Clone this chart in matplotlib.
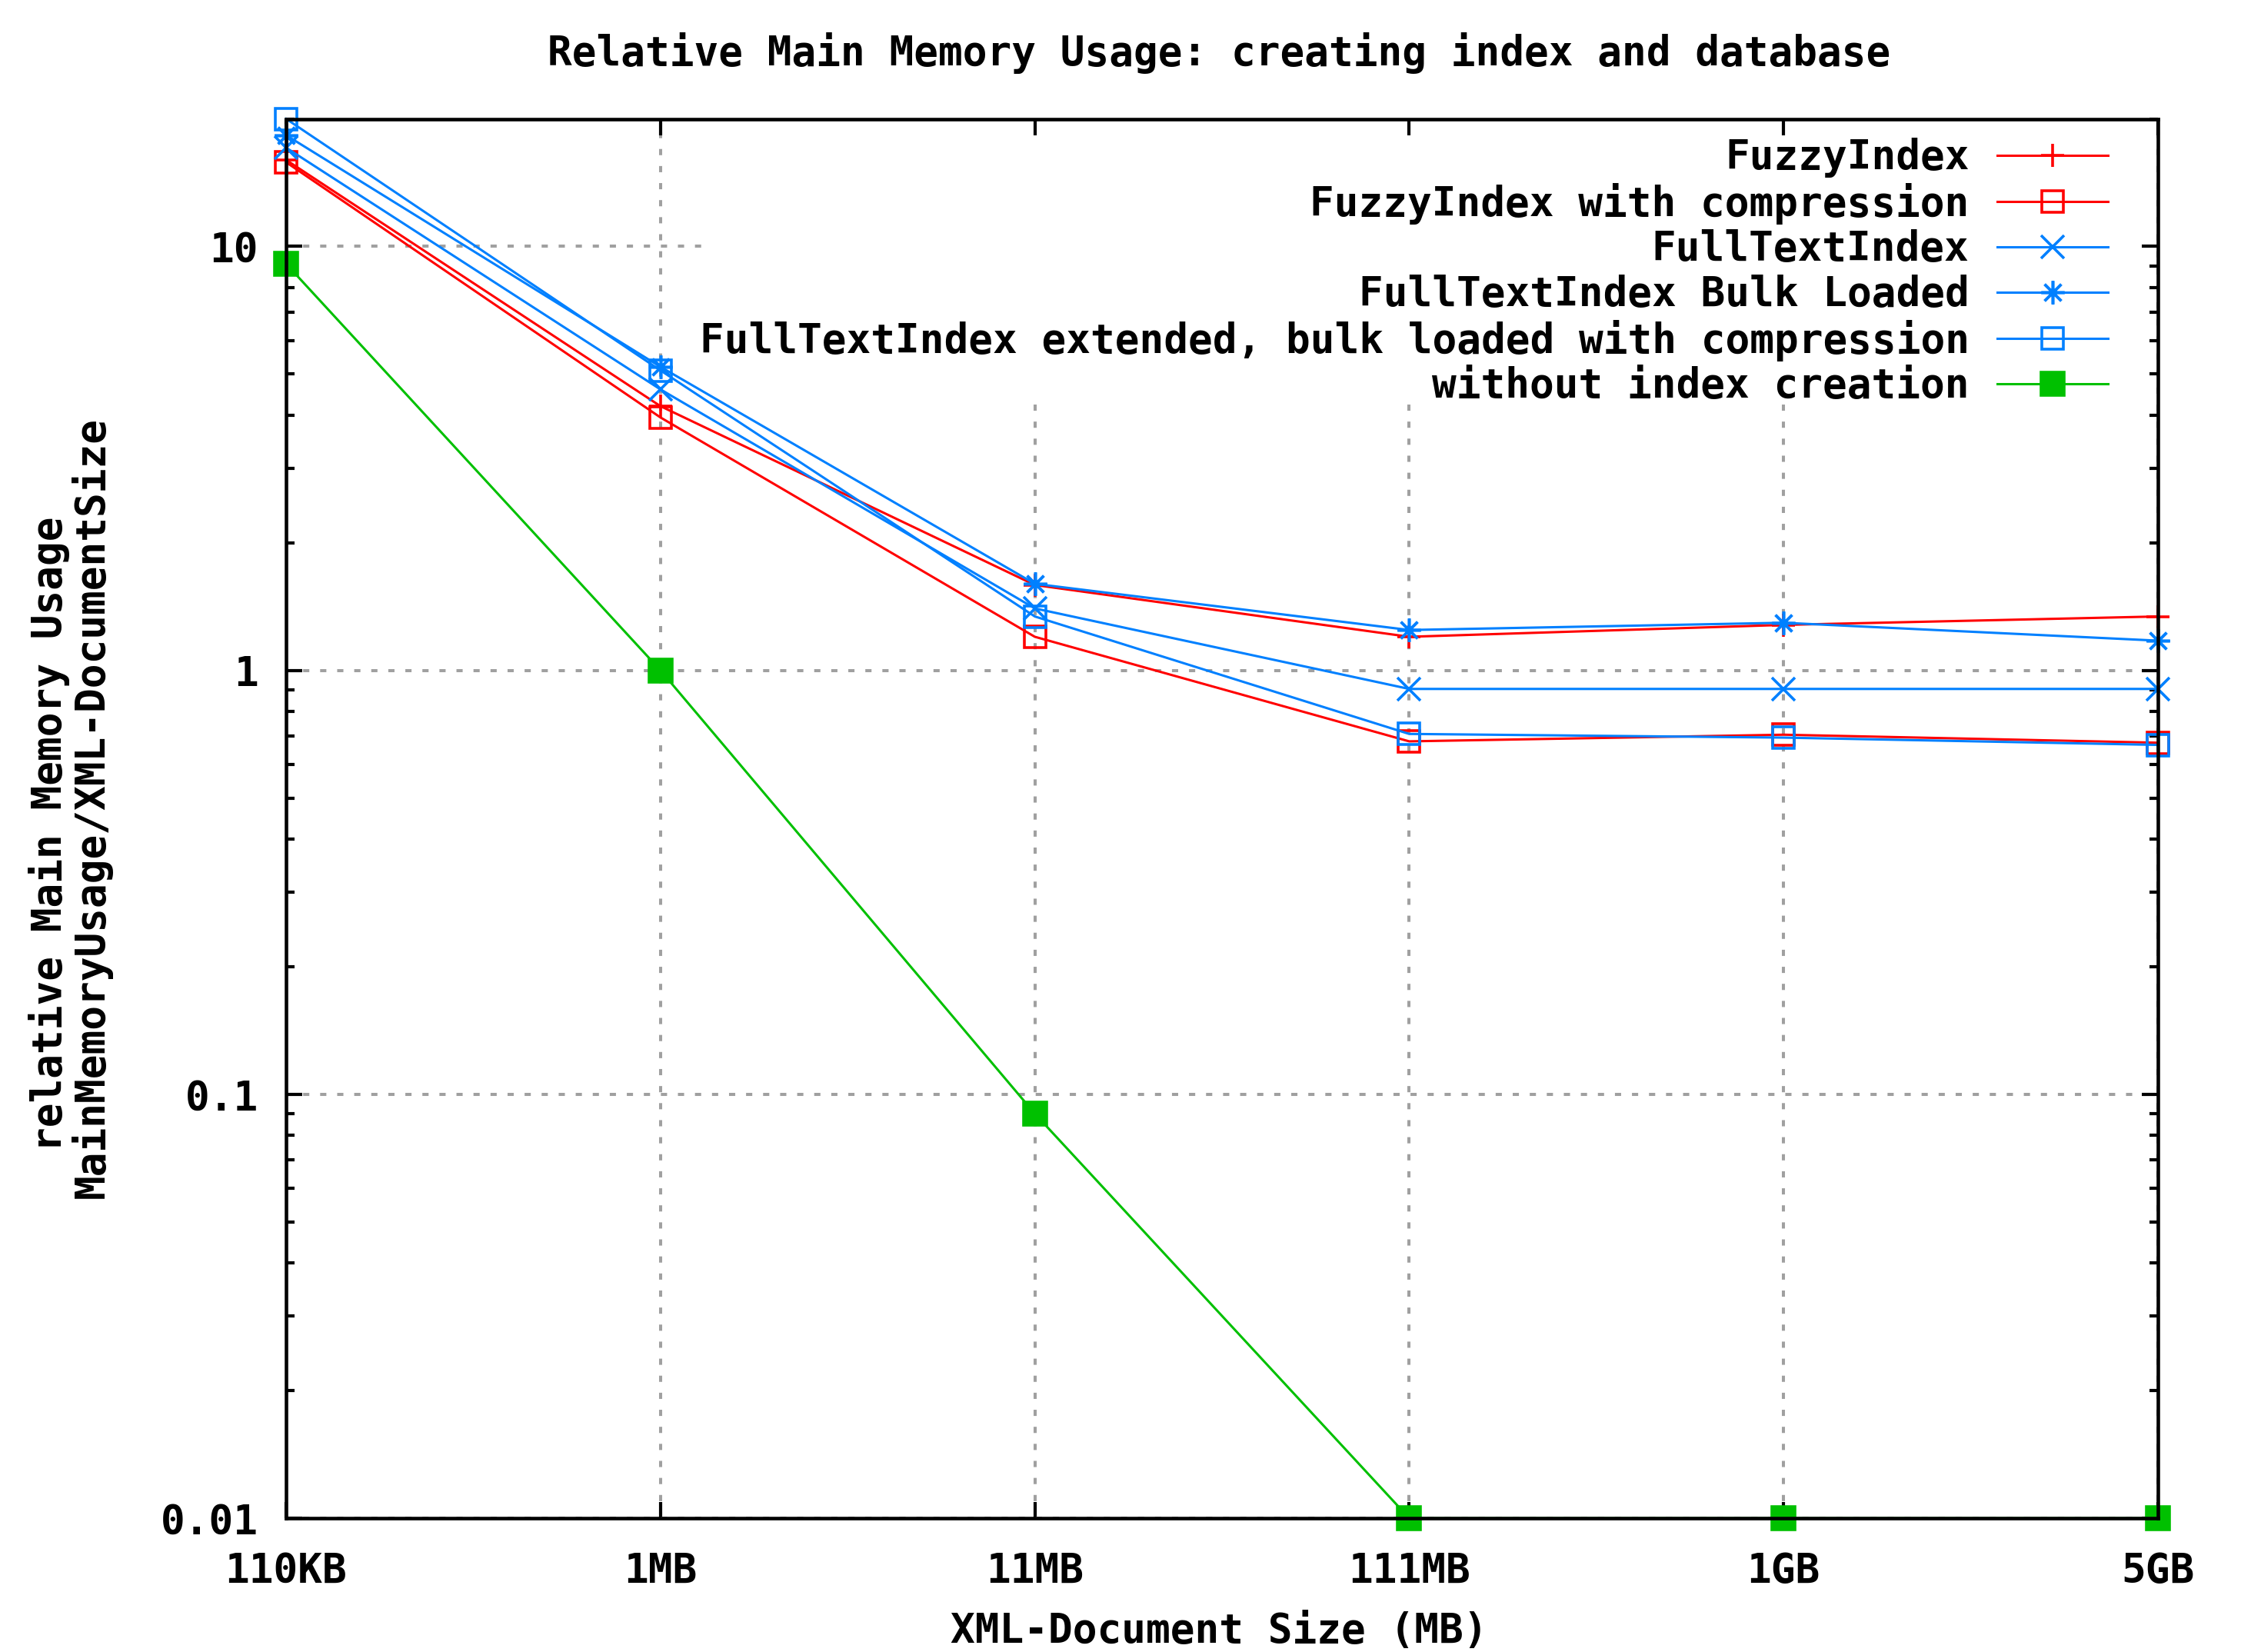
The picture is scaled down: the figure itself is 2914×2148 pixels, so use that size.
import matplotlib
matplotlib.use("Agg")
import matplotlib.pyplot as plt
from matplotlib.patches import Polygon
from matplotlib.ticker import LogLocator, NullFormatter, NullLocator

# x categories (document sizes), plotted at equal spacing
sizes = ["110KB", "1MB", "11MB", "111MB", "1GB", "5GB"]

# relative main memory usage = MainMemoryUsage / XML-DocumentSize
fuzzy = [16.0, 4.2, 1.59, 1.20, 1.28, 1.34]
fuzzy_comp = [15.8, 3.95, 1.20, 0.68, 0.705, 0.675]
fulltext = [17.1, 4.6, 1.40, 0.904, 0.904, 0.904]
fulltext_bulk = [18.3, 5.2, 1.60, 1.245, 1.295, 1.175]
fulltext_ext = [20.0, 5.1, 1.34, 0.708, 0.694, 0.667]
no_index = [9.1, 1.0, 0.09, 0.01, 0.01, 0.01]

labels = ["FuzzyIndex",
          "FuzzyIndex with compression",
          "FullTextIndex",
          "FullTextIndex Bulk Loaded",
          "FullTextIndex extended, bulk loaded with compression",
          "without index creation"]

yticks = [0.01, 0.1, 1, 10]
ytick_labels = ["0.01", "0.1", "1", "10"]

RED = "#ff0000"
BLUE = "#0080ff"
GREEN = "#00c000"
FS = 38

plt.rcParams['font.family'] = ['DejaVu Sans Mono']
plt.rcParams['font.weight'] = 'bold'

fig = plt.figure(figsize=(29.14, 21.48), dpi=100)
ax = fig.add_axes([372 / 2914, 1 - 1974 / 2148, (2806 - 372) / 2914, (1974 - 154.5) / 2148])

x = list(range(len(sizes)))
styles = [
    (fuzzy, RED, "+", RED, 22),
    (fuzzy_comp, RED, "s", "none", 20),
    (fulltext, BLUE, "x", BLUE, 21),
    (fulltext_bulk, BLUE, (8, 2, 0), BLUE, 22),
    (fulltext_ext, BLUE, "s", "none", 20),
    (no_index, GREEN, "s", GREEN, 21),
]
for (vals, col, mk, fc, ms), lab in zip(styles, labels):
    ax.plot(x, vals, color=col, lw=2.2, marker=mk, markersize=ms,
            markerfacecolor=fc, markeredgecolor=col, markeredgewidth=2.6,
            label=lab, clip_on=False)

ax.set_yscale('log')
ax.set_ylim(0.01, 20)
ax.set_xlim(0, 5)
ax.set_xticks(x)
ax.set_xticklabels(sizes)
ax.xaxis.set_minor_locator(NullLocator())
ax.set_yticks(yticks)
ax.set_yticklabels(ytick_labels)
ax.yaxis.set_minor_locator(LogLocator(base=10, subs=range(2, 10)))
ax.yaxis.set_minor_formatter(NullFormatter())

ax.tick_params(which='major', direction='in', length=15, width=3,
               top=True, right=True, labelsize=FS)
ax.tick_params(which='minor', direction='in', length=8, width=3, right=True)
ax.tick_params(axis='y', which='major', pad=26)
ax.tick_params(axis='x', which='major', pad=31)
for sp in ax.spines.values():
    sp.set_linewidth(3.3)

ax.grid(True, which='major', color='#a0a0a0', linestyle=(0, (2, 3.5)), linewidth=2.9)
# key area blanks out the grid (top right corner)
keep = Polygon([(0, 0), (1, 0), (1, 1), (0.9934, 1), (0.9934, 0.7958),
                (0.2268, 0.7958), (0.2268, 1), (0, 1)], closed=True,
               transform=ax.transAxes)
for gl in ax.get_xgridlines() + ax.get_ygridlines():
    gl.set_clip_path(keep)

leg = ax.legend(loc='upper right', bbox_to_anchor=(0.9733, 0.9864),
                markerfirst=False, frameon=False, borderpad=0, borderaxespad=0,
                handlelength=2.72, handletextpad=0.7, labelspacing=0.125,
                prop={'family': 'DejaVu Sans Mono', 'weight': 'bold', 'size': FS})

fig.text(1585 / 2914, 1 - 69 / 2148, "Relative Main Memory Usage: creating index and database",
         ha='center', va='center', fontsize=FS)
fig.text(1585 / 2914, 1 - 2121 / 2148, "XML-Document Size (MB)",
         ha='center', va='center', fontsize=FS)
fig.text(64 / 2914, 1 - 1084 / 2148, "relative Main Memory Usage",
         ha='center', va='center', rotation=90, fontsize=FS)
fig.text(119 / 2914, 1 - 1050 / 2148, "MainMemoryUsage/XML-DocumentSize",
         ha='center', va='center', rotation=90, fontsize=FS)

fig.savefig("out.png", dpi=100)
